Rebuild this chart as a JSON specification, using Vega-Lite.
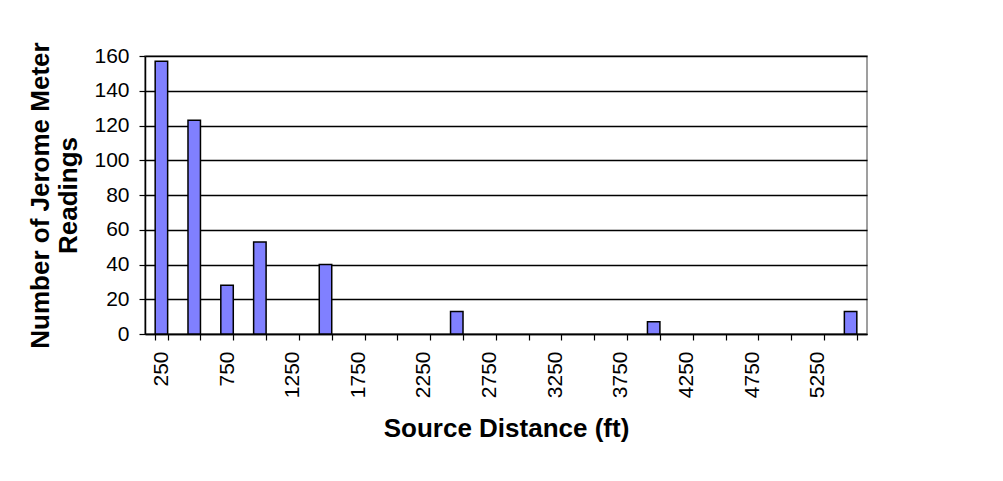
{
  "$schema": "https://vega.github.io/schema/vega-lite/v6.json",
  "autosize": {"type": "none"},
  "padding": {"left": 145, "top": 56, "right": 136, "bottom": 147},
  "width": 722,
  "height": 278,
  "background": "white",
  "config": {
    "view": {"stroke": "#808080", "strokeWidth": 1.5},
    "font": "Liberation Sans"
  },
  "data": {
    "values": [
      {"distance": 250, "count": 157},
      {"distance": 500, "count": 123},
      {"distance": 750, "count": 28},
      {"distance": 1000, "count": 53},
      {"distance": 1250, "count": 0},
      {"distance": 1500, "count": 40},
      {"distance": 1750, "count": 0},
      {"distance": 2000, "count": 0},
      {"distance": 2250, "count": 0},
      {"distance": 2500, "count": 13},
      {"distance": 2750, "count": 0},
      {"distance": 3000, "count": 0},
      {"distance": 3250, "count": 0},
      {"distance": 3500, "count": 0},
      {"distance": 3750, "count": 0},
      {"distance": 4000, "count": 7},
      {"distance": 4250, "count": 0},
      {"distance": 4500, "count": 0},
      {"distance": 4750, "count": 0},
      {"distance": 5000, "count": 0},
      {"distance": 5250, "count": 0},
      {"distance": 5500, "count": 13}
    ]
  },
  "transform": [{"filter": "datum.count > 0"}],
  "mark": {"type": "bar", "fill": "#8080FF", "stroke": "black", "strokeWidth": 1.5},
  "encoding": {
    "x": {
      "field": "distance",
      "type": "ordinal",
      "scale": {
        "domain": [250, 500, 750, 1000, 1250, 1500, 1750, 2000, 2250, 2500, 2750, 3000, 3250, 3500, 3750, 4000, 4250, 4500, 4750, 5000, 5250, 5500],
        "paddingInner": 0.62,
        "paddingOuter": 0.31
      },
      "axis": {
        "title": "Source Distance (ft)",
        "titleFont": "Liberation Sans",
        "titleFontSize": 26,
        "titleFontWeight": "bold",
        "titleColor": "black",
        "titlePadding": 18,
        "labelAngle": -90,
        "labelFontSize": 21,
        "labelColor": "black",
        "labelPadding": 11,
        "labelExpr": "(+datum.value - 250) % 500 == 0 ? datum.label : ''",
        "tickBand": "extent",
        "tickColor": "black",
        "tickSize": 6,
        "tickWidth": 1.2,
        "domainColor": "black",
        "domainWidth": 1.5,
        "labelOverlap": false,
        "grid": false
      }
    },
    "y": {
      "field": "count",
      "type": "quantitative",
      "scale": {"domain": [0, 160], "nice": false},
      "axis": {
        "title": ["Number of Jerome Meter", "Readings"],
        "titleFont": "Liberation Sans",
        "titleFontSize": 26,
        "titleFontWeight": "bold",
        "titleColor": "black",
        "titleLineHeight": 28,
        "titlePadding": 12,
        "values": [0, 20, 40, 60, 80, 100, 120, 140, 160],
        "labelFontSize": 21,
        "labelColor": "black",
        "labelPadding": 10,
        "tickColor": "black",
        "tickSize": 6,
        "tickWidth": 1.2,
        "domainColor": "black",
        "domainWidth": 1.5,
        "grid": true,
        "gridColor": "black",
        "gridWidth": 1.5,
        "gridOpacity": 1
      }
    }
  }
}
